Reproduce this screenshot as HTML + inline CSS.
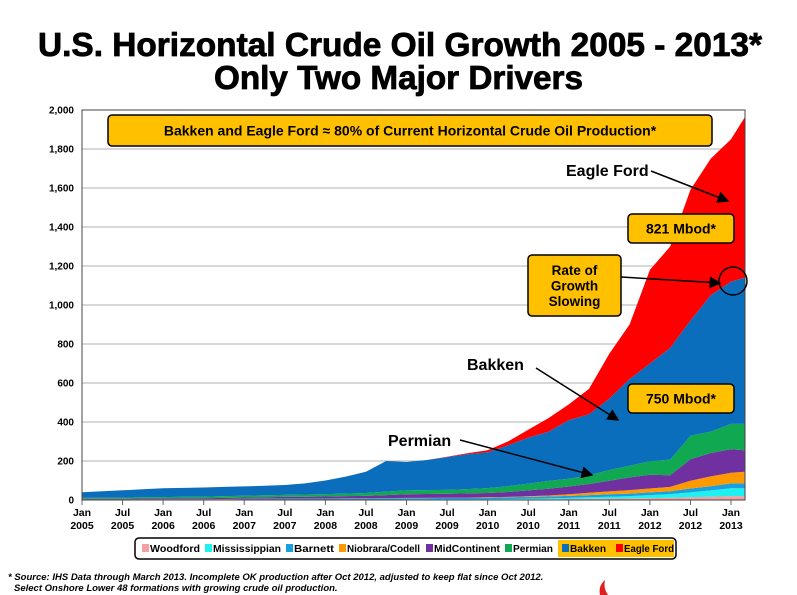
<!DOCTYPE html>
<html><head><meta charset="utf-8"><style>
body{margin:0;background:#fff;width:797px;height:595px;overflow:hidden;font-family:"Liberation Sans",sans-serif}
svg{display:block}
</style></head><body>
<svg id="chart" width="797" height="595" font-family="Liberation Sans, sans-serif">
<text x="38" y="56" textLength="724" lengthAdjust="spacingAndGlyphs" font-size="33" font-weight="bold" stroke="#000" stroke-width="0.8">U.S. Horizontal Crude Oil Growth 2005 - 2013*</text>
<text x="214" y="89" textLength="369" lengthAdjust="spacingAndGlyphs" font-size="33" font-weight="bold" stroke="#000" stroke-width="0.8">Only Two Major Drivers</text>
<g id="grid"></g>
<g id="areas"></g>
<g id="axes"></g>
<rect x="82" y="110" width="663" height="390" fill="none" stroke="#444" stroke-width="1"/>
</svg>
<script>
const months = [0,3,6,9,12,15,18,21,24,27,30,33,36,39,42,45,48,51,54,57,60,63,66,69,72,75,78,81,84,87,90,93,96,98];
const woodford = [0,0,0,0,0,0,0,0,1,1,1,1,1,1,1,2,2,2,2,2,2,3,3,4,5,6,7,8,10,12,14,17,20,20];
const mississippian = [0,0,0,0,0,0,0,0,0,0,0,0,0,0,0,0,1,1,1,1,2,2,3,4,6,8,10,12,15,18,25,32,40,40];
const barnett = [2,2,2,3,3,3,3,4,4,4,5,5,5,6,6,7,7,7,8,8,8,9,10,10,10,11,12,13,14,15,20,22,25,25];
const niobrara = [1,1,1,1,1,1,1,1,1,1,1,1,1,1,1,1,1,1,1,1,2,2,3,5,8,12,15,18,20,22,40,50,55,60];
const midContinent = [3,3,3,4,4,5,5,6,7,8,9,10,11,12,13,15,18,20,20,22,22,25,30,35,40,45,55,65,70,60,110,120,120,110];
const permian = [5,6,6,7,7,8,8,9,9,10,10,11,12,13,15,18,20,20,20,22,25,30,35,40,40,45,55,60,70,80,120,110,130,135];
const bakken = [29,33,38,40,45,45,47,47,48,49,51,57,70,87,109,157,146,154,168,179,184,209,236,252,301,313,366,444,501,573,591,699,730,750];
const eagleFord = [0,0,0,0,0,0,0,0,0,0,0,0,0,0,0,0,0,0,2,5,10,20,40,70,80,130,230,280,480,520,670,700,730,820];
const yTicks = [0,200,400,600,800,1000,1200,1400,1600,1800,2000];
const xTickMonths = [0,6,12,18,24,30,36,42,48,54,60,66,72,78,84,90,96];
const xTickTop = ["Jan","Jul","Jan","Jul","Jan","Jul","Jan","Jul","Jan","Jul","Jan","Jul","Jan","Jul","Jan","Jul","Jan"];
const xTickBottom = ["2005","2005","2006","2006","2007","2007","2008","2008","2009","2009","2010","2010","2011","2011","2012","2012","2013"];
const seriesNames = ["Woodford","Mississippian","Barnett","Niobrara/Codell","MidContinent","Permian","Bakken","Eagle Ford"];
const seriesData = [woodford,mississippian,barnett,niobrara,midContinent,permian,bakken,eagleFord];
const colors = ["#f4a0a0","#1ff0f0","#1aa0e0","#ff9900","#7030a0","#10a850","#0a6ebd","#ff0000"];

const NS="http://www.w3.org/2000/svg";
const x = m => 82 + m*(649/96);
const y = v => 500 - v*(390/2000);
function mk(tag, attrs, parent){const e=document.createElementNS(NS,tag);for(const k in attrs)e.setAttribute(k,attrs[k]);parent.appendChild(e);return e;}
const grid=document.getElementById('grid'), areas=document.getElementById('areas'), axes=document.getElementById('axes'), svg=document.getElementById('chart');

yTicks.forEach(t=>{
  if(t>0&&t<2000){const l=mk('line',{x1:82,x2:745,y1:y(t),y2:y(t),stroke:'#b0b0b0','stroke-width':1},grid);
  
  }
  const tx=mk('text',{x:74,y:y(t)+3.5,'text-anchor':'end','font-size':10,'font-weight':'bold'},axes);
  tx.textContent=t.toLocaleString('en-US');
  
  
});
xTickMonths.forEach((m,i)=>{
  const tk=mk('line',{x1:x(m),x2:x(m),y1:500,y2:505,stroke:'#666'},axes);
  
  
  const t1=mk('text',{x:x(m),y:516,'text-anchor':'middle','font-size':10.5,'font-weight':'bold'},axes);
  t1.textContent=xTickTop[i];
  
  
  const t2=mk('text',{x:x(m),y:529,'text-anchor':'middle','font-size':10.5,'font-weight':'bold'},axes);
  t2.textContent=xTickBottom[i];
  
  
});

let base=months.map(()=>0);
seriesData.forEach((s,k)=>{
  const top=base.map((b,i)=>b+s[i]);
  let d='M'+months.map((m,i)=>x(m).toFixed(1)+','+y(top[i]).toFixed(1)).join('L');
  for(let i=months.length-1;i>=0;i--) d+='L'+x(months[i]).toFixed(1)+','+y(base[i]).toFixed(1);
  const p=mk('path',{d:d+'Z',fill:colors[k]},areas);
  
  
  base=top;
});

const ann=mk('g',{},svg);


mk('defs',{},ann).innerHTML='<marker id="ah" markerWidth="8" markerHeight="8" refX="7" refY="4" orient="auto"><path d="M0,0L8,4L0,8Z" fill="#000"/></marker>';
function box(x0,y0,w,h,lines,name,fs){
  const r=mk('rect',{x:x0,y:y0,width:w,height:h,rx:4,fill:'#ffc000',stroke:'#000','stroke-width':1.5},ann);
  
  
  lines.forEach((s,i)=>{const t=mk('text',{x:x0+w/2,y:y0+h/2+fs*0.36+(i-(lines.length-1)/2)*fs*1.15,'text-anchor':'middle','font-size':fs,'font-weight':'bold'},ann);t.textContent=s;
  
  });
}
function arrow(x1,y1,x2,y2,name){const l=mk('line',{x1,y1,x2,y2,stroke:'#000','stroke-width':1.5,'marker-end':'url(#ah)'},ann);
  
  }
function label(xx,yy,s,name){const t=mk('text',{x:xx,y:yy,'font-size':16,'font-weight':'bold'},ann);t.textContent=s;
  
  }
box(108,115,604,31,["Bakken and Eagle Ford \u2248 80% of Current Horizontal Crude Oil Production*"],'headline-box',14);
box(628,214,106,29,["821 Mbod*"],'eagle-ford-value-box',14);
box(528,255,93,61,["Rate of","Growth","Slowing"],'growth-slowing-box',13.5);
box(628,384,106,29,["750 Mbod*"],'bakken-value-box',14);
label(566,176,"Eagle Ford",'eagle-ford-label');
arrow(651,171,728,201,'eagle-ford-arrow');
label(467,370,"Bakken",'bakken-label');
arrow(536,368,618,420,'bakken-arrow');
label(388,446,"Permian",'permian-label');
arrow(460,440,592,475,'permian-arrow');
arrow(621,277,720,283,'growth-arrow');
const c=mk('circle',{cx:733,cy:281,r:14,fill:'none',stroke:'#000','stroke-width':1.5},ann);



const lg=mk('g',{},svg);


mk('rect',{x:135,y:538,width:541,height:21,rx:4,fill:'#fff',stroke:'#000','stroke-width':1.5},lg);
mk('rect',{x:558,y:540,width:116,height:17,fill:'#ffc000'},lg);
const lx=[142,205,286,339,426,505,562,616];
const lw=[50,68,40,73,66,40,36,50];
seriesNames.forEach((n,i)=>{
  const g=mk('g',{},lg);
  
  
  mk('rect',{x:lx[i],y:544,width:7,height:8,fill:colors[i]},g);
  const t=mk('text',{x:lx[i]+8,y:552,'font-size':10,'font-weight':'bold',textLength:lw[i],lengthAdjust:'spacingAndGlyphs'},g);t.textContent=n;
});
const f1=mk('text',{x:8,y:580,'font-size':9.5,'font-weight':'bold','font-style':'italic'},svg);
f1.textContent="* Source: IHS Data through March 2013. Incomplete OK production after Oct 2012, adjusted to keep flat since Oct 2012.";


const f2=mk('text',{x:14,y:591,'font-size':9.5,'font-weight':'bold','font-style':'italic'},svg);
f2.textContent="Select Onshore Lower 48 formations with growing crude oil production.";


const logo=mk('path',{d:'M600,595 Q598,586 605,580 Q603,588 608,595Z',fill:'#e02020'},svg);


</script>
</body></html>
